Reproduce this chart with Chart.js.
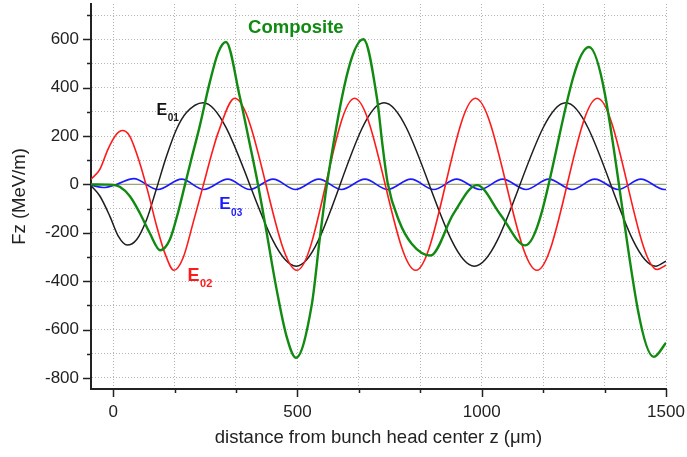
<!DOCTYPE html>
<html>
<head>
<meta charset="utf-8">
<script src="https://cdn.jsdelivr.net/npm/chart.js@4"></script>
<style>
  html, body { margin: 0; padding: 0; background: #fff; }
</style>
</head>
<body>
<canvas id="myChart" width="687" height="457"></canvas>
<script>
// field along the bunch: z in um, Fz in MeV/m
const e01Z = [-60, -36, -9, 14, 38, 64, 91, 117, 145, 172, 199, 244, 497, 735, 980, 1228, 1472, 1500];
const e01F = [-5, -48, -131, -214, -251, -228, -145, -21, 117, 228, 297, 338, -338, 338, -338, 338, -338, -317];

const e02Z = [-60, -36, -14, 9, 25, 45, 72, 95, 118, 140, 165, 190, 217, 244, 271, 285, 330, 499, 655, 821, 983, 1150, 1314, 1476, 1500];
const e02F = [21, 62, 145, 207, 223, 200, 90, -34, -172, -283, -355, -303, -159, -7, 145, 214, 356, -355, 356, -355, 356, -355, 356, -352, -334];

const e03Z = [-60, -27, 9, 56, 122, 186, 246, 311, 371, 434, 495, 558, 620, 683, 745, 808, 870, 932, 995, 1057, 1120, 1182, 1245, 1307, 1370, 1432, 1495, 1500];
const e03F = [-3, -13, 0, 24, -21, 22, -21, 22, -21, 22, -21, 22, -21, 22, -21, 22, -21, 22, -21, 22, -21, 22, -21, 22, -21, 22, -21, -21];

const compZ = [-60, -20, 0, 18, 45, 72, 99, 128, 154, 176, 194, 212, 235, 262, 285, 306, 344, 371, 393, 416, 443, 470, 496,
  539, 561, 582, 639, 679, 716, 731, 745, 775, 810, 861, 924, 987, 1051, 1118, 1291, 1467, 1500];
const compF = [0, -1, -2, -10, -48, -117, -200, -272, -228, -117, -7, 103, 241, 421, 545, 589, 360, 165, 0, -195, -430, -625, -717,
  -497, -220, 20, 480, 600, 355, 160, 5, -148, -245, -294, -120, -3, -125, -252, 568, -713, -655];

const baseZ = [-60, 1500];
const baseF = [0, 0];

// axis ticks (unlabelled entries are minor ticks)
const xTicks = [0, 166.667, 333.333, 500, 666.667, 833.333, 1000, 1166.667, 1333.333, 1500];
const xTickLabels = ['0', '', '', '500', '', '', '1000', '', '', '1500'];
const yTicks = [-800, -700, -600, -500, -400, -300, -200, -100, 0, 100, 200, 300, 400, 500, 600, 700];
const yTickLabels = ['-800', '', '-600', '', '-400', '', '-200', '', '0', '', '200', '', '400', '', '600', ''];

const FONT = '"Liberation Sans", Arial, sans-serif';

const toPoints = (zs, fs) => zs.map((z, i) => ({x: z, y: fs[i]}));

const curveLabels = [
  {text: 'Composite', z: 366, f: 625, color: '#108a10', size: 18.5},
  {text: 'E', sub: '01', z: 118, f: 288, color: '#111', size: 16, subSize: 10, subDrop: 6},
  {text: 'E', sub: '02', z: 202, f: -401, color: '#ff1a1a', size: 18, subSize: 11, subDrop: 6},
  {text: 'E', sub: '03', z: 288, f: -102, color: '#1a1aff', size: 17, subSize: 10, subDrop: 7}
];

const labelPlugin = {
  id: 'curveLabels',
  afterDatasetsDraw(chart) {
    const {ctx, scales: {x, y}} = chart;
    ctx.save();
    ctx.textBaseline = 'alphabetic';
    curveLabels.forEach(l => {
      const px = x.getPixelForValue(l.z);
      const py = y.getPixelForValue(l.f);
      ctx.fillStyle = l.color;
      ctx.font = 'bold ' + l.size + 'px ' + FONT;
      ctx.fillText(l.text, px, py);
      if (l.sub) {
        const w = ctx.measureText(l.text).width;
        ctx.font = 'bold ' + l.subSize + 'px ' + FONT;
        ctx.fillText(l.sub, px + w + 0.5, py + l.subDrop);
      }
    });
    ctx.restore();
  }
};

// outward tick marks, long for labelled ticks, short for minor ones
const tickPlugin = {
  id: 'tickMarks',
  afterDraw(chart) {
    const {ctx, chartArea, scales: {x, y}} = chart;
    ctx.save();
    ctx.strokeStyle = '#222';
    ctx.lineWidth = 1.5;
    ctx.beginPath();
    xTicks.forEach((v, i) => {
      const px = Math.round(x.getPixelForValue(v)) + 0.5;
      const len = xTickLabels[i] ? 8 : 4;
      ctx.moveTo(px, chartArea.bottom);
      ctx.lineTo(px, chartArea.bottom + len);
    });
    yTicks.forEach((v, i) => {
      const py = Math.round(y.getPixelForValue(v)) + 0.5;
      const len = yTickLabels[i] ? 8 : 4;
      ctx.moveTo(chartArea.left, py);
      ctx.lineTo(chartArea.left - len, py);
    });
    ctx.stroke();
    ctx.restore();
  }
};

const line = (label, zs, fs, color, width, order) => ({
  label: label,
  data: toPoints(zs, fs),
  borderColor: color,
  borderWidth: width,
  pointRadius: 0,
  fill: false,
  cubicInterpolationMode: 'monotone',
  order: order
});

const config = {
  type: 'line',
  data: {
    datasets: [
      line('Composite', compZ, compF, '#108a10', 2.4, 0),
      line('E02', e02Z, e02F, '#ff1a1a', 1.6, 1),
      line('E01', e01Z, e01F, '#1e1e1e', 1.5, 2),
      line('E03', e03Z, e03F, '#1a1aff', 1.6, 3),
      line('zero', baseZ, baseF, '#9ea574', 1.2, 4)
    ]
  },
  options: {
    responsive: false,
    animation: false,
    events: [],
    layout: {padding: {left: 0, right: 21, top: 4, bottom: 0}},
    plugins: {legend: {display: false}, tooltip: {enabled: false}},
    scales: {
      x: {
        type: 'linear',
        min: -60,
        max: 1500,
        afterBuildTicks: s => { s.ticks = xTicks.map(v => ({value: v})); },
        afterFit: s => { s.height = 68; s.paddingLeft = 0; s.paddingRight = 0; },
        ticks: {
          autoSkip: false,
          maxRotation: 0,
          padding: 13,
          color: '#222',
          font: {family: FONT, size: 17},
          callback: (v, i) => xTickLabels[i]
        },
        grid: {color: '#b4b4b4', lineWidth: 1, drawTicks: false},
        border: {display: true, color: '#222', width: 2, dash: [1, 2]},
        title: {
          display: true,
          text: 'distance from bunch head center z (\u03bcm)',
          color: '#222',
          font: {family: FONT, size: 18.5},
          padding: {top: 0, bottom: 8}
        }
      },
      y: {
        min: -846,
        max: 746,
        afterBuildTicks: s => { s.ticks = yTicks.map(v => ({value: v})); },
        afterFit: s => { s.width = 91; s.paddingTop = 0; s.paddingBottom = 0; },
        ticks: {
          autoSkip: false,
          padding: 12,
          color: '#222',
          font: {family: FONT, size: 17},
          callback: (v, i) => yTickLabels[i]
        },
        grid: {color: '#b4b4b4', lineWidth: 1, drawTicks: false},
        border: {display: true, color: '#222', width: 2, dash: [1, 2]},
        title: {
          display: true,
          text: 'Fz (MeV/m)',
          color: '#222',
          font: {family: FONT, size: 18.5},
          padding: {top: 9, bottom: 0}
        }
      }
    }
  },
  plugins: [labelPlugin, tickPlugin]
};

const myChart = new Chart(document.getElementById('myChart'), config);
</script>
</body>
</html>
